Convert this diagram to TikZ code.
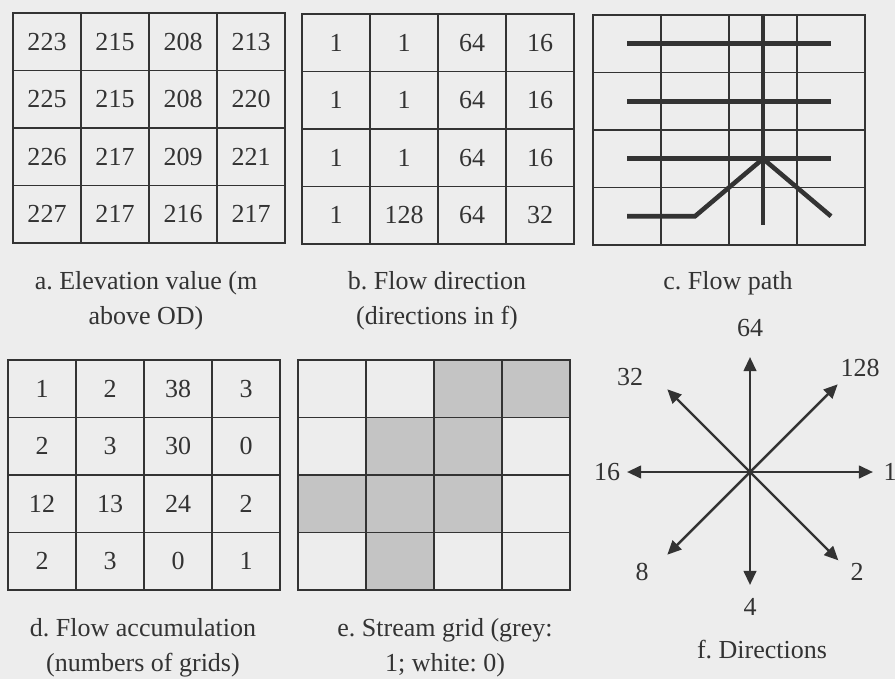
\documentclass[tikz,border=0pt]{standalone}
\usepackage{fontspec}
\setmainfont{Liberation Serif}
\usepackage{tikz}
\usetikzlibrary{arrows.meta,positioning}
\definecolor{page}{HTML}{EDEDED}
\definecolor{ink}{HTML}{333333}
\definecolor{stream0}{HTML}{EDEDED}
\definecolor{stream1}{HTML}{C4C4C4}
\newcommand{\cellw}{68}\newcommand{\cellh}{57.5}
% name, left, top, rows of values
\newcommand{\cellgrid}[4]{\foreach \row [count=\ri] in {#4}{\foreach \v [count=\ci] in \row {\node[cell] (#1-\ri-\ci) at ({#2+(\ci-.5)*\cellw},{#3+(\ri-.5)*\cellh}) {\v};}}}
\frenchspacing

\begin{document}
\begin{tikzpicture}[x=.02cm,y=-.02cm,font=\fontsize{14.8}{20}\selectfont,text=ink,
  cell/.style={draw=ink,line width=1.1pt,minimum width=1.36cm,minimum height=1.15cm,inner sep=0pt},
  flowline/.style={ink,line width=2.6pt},
  dirarrow/.style={ink,line width=1.4pt,-{Triangle[length=.28cm,width=.25cm]}},
  captxt/.style={align=center}]
\useasboundingbox (0,0) rectangle (895,679);
\fill[page] (0,0) rectangle (895,679);
% a, b, d: value grids
\cellgrid{a}{13}{13}{{223,215,208,213},{225,215,208,220},{226,217,209,221},{227,217,216,217}}
\cellgrid{b}{302}{14}{{1,1,64,16},{1,1,64,16},{1,1,64,16},{1,128,64,32}}
\cellgrid{d}{8}{360}{{1,2,38,3},{2,3,30,0},{12,13,24,2},{2,3,0,1}}
% c: flow path
\cellgrid{c}{593}{15}{{{},{},{},{}},{{},{},{},{}},{{},{},{},{}},{{},{},{},{}}}
\foreach \ri in {1,2,3}{\draw[flowline] (c-\ri-1.center)--(c-\ri-4.center);}
\draw[flowline] (c-1-3.north)--([yshift=-.18cm]c-4-3.center);
\draw[flowline] (c-4-1.center)--(c-4-2.center)--(c-3-3.center)--(c-4-4.center);
% e: stream grid
\foreach \row [count=\ri] in {{0,0,1,1},{0,1,1,0},{1,1,1,0},{0,1,0,0}}{\foreach \v [count=\ci] in \row {\node[cell,fill=stream\v] (e-\ri-\ci) at ({298+(\ci-.5)*\cellw},{360+(\ri-.5)*\cellh}) {};}}
% f: directions
\coordinate (o) at (750,472);
\foreach \a/\len/\nm in {0/2.46/e,45/2.48/ne,90/2.3/n,135/2.34/nw,180/2.46/w,225/2.34/sw,270/2.26/s,315/2.5/se}{\path (o) ++(\a:\len cm) coordinate (tip-\nm);\draw[dirarrow] (o)--(tip-\nm);}
\node (lab-n) at (750,328){64};\node (lab-ne) at (860,368){128};\node (lab-nw) at (630,377){32};
\node (lab-w) at (607,472){16};\node (lab-e) at (890,472){1};
\node (lab-sw) at (642,572){8};\node (lab-se) at (857,572){2};\node (lab-s) at (750,607){4};
% captions
\node[captxt] (cap-a) at (146,301){a. Elevation value (m\\above OD)};
\node[captxt] (cap-b) at (437,301){b. Flow direction\\(directions in f)};
\node[captxt] (cap-c) at (728,283){c. Flow path};
\node[captxt] (cap-d) at (143,648){d. Flow accumulation\\(numbers of grids)};
\node[captxt] (cap-e) at (445,648){e. Stream grid (grey:\\1; white: 0)};
\node[captxt] (cap-f) at (762,650){f. Directions};
\end{tikzpicture}
\end{document}
